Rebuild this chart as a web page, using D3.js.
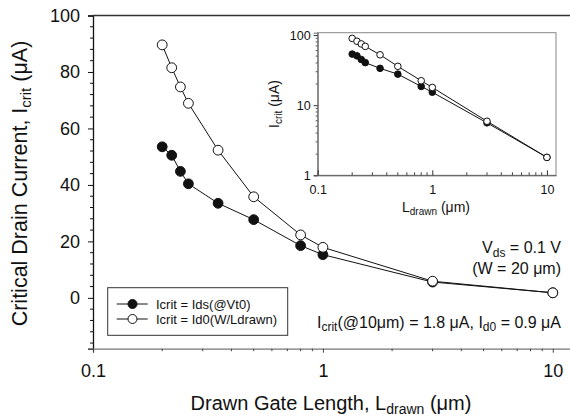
<!DOCTYPE html>
<html>
<head>
<meta charset="utf-8">
<script src="https://cdn.jsdelivr.net/npm/d3@7"></script>
<style>
  html, body { margin: 0; padding: 0; background: #fff; }
  svg { display: block; font-family: "Liberation Sans", Arial, sans-serif; }
</style>
</head>
<body>
<svg id="chart" width="570" height="420"></svg>
<script>
// Drawn gate length (µm)
const lengths = [0.2, 0.22, 0.24, 0.26, 0.35, 0.5, 0.8, 1, 3, 10];
// Icrit = Ids(@Vt0), µA
const icritVt0 = [53.5, 50.5, 44.8, 40.4, 33.5, 27.7, 18.5, 15.3, 5.6, 1.8];
// Icrit = Id0(W/Ldrawn), µA
const icritScaled = [89.6, 81.5, 74.7, 68.9, 52.3, 35.8, 22.3, 17.9, 5.9, 1.8];

const mainXTicks = [0.1, 1, 10];
const mainYTicks = [0, 20, 40, 60, 80, 100];
const insetXTicks = [0.1, 1, 10];
const insetYTicks = [1, 10, 100];

const seriesNames = ["Icrit = Ids(@Vt0)", "Icrit = Id0(W/Ldrawn)"];

const svg = d3.select("#chart");
const ink = "#111";
const FONT = "Liberation Sans, Arial, sans-serif";

// ---------- main plot ----------
const x = d3.scaleLog().domain([0.1, 12]).range([93, 571]);
const y = d3.scaleLinear().domain([-18, 100]).range([348.7, 15.5]);

const minorLog = (lo, hi) => {
  const out = [];
  for (let d = lo; d < hi; d *= 10)
    for (let k = 2; k <= 9; k++) if (d * k <= hi) out.push(d * k);
  return out;
};

// left axis: major + minor ticks pointing outward
const yMinor = d3.range(-16, 100, 4).filter(v => v % 20 !== 0);
const gy = svg.append("g").attr("transform", `translate(${x.range()[0]},0)`);
gy.call(d3.axisLeft(y).tickValues(mainYTicks).tickSize(5).tickPadding(8).tickFormat(d3.format("d")));
gy.select(".domain").attr("stroke", ink).attr("stroke-width", 1.3);
gy.selectAll(".tick line").attr("stroke", ink);
gy.selectAll(".tick text").attr("font-size", 18).attr("fill", ink).attr("font-family", FONT);
gy.append("g").selectAll("line").data(yMinor).join("line")
  .attr("x1", -3).attr("x2", 0).attr("y1", d => y(d)).attr("y2", d => y(d))
  .attr("stroke", ink);

// bottom axis
const gx = svg.append("g").attr("transform", `translate(0,${y.range()[0]})`);
gx.call(d3.axisBottom(x).tickValues(mainXTicks).tickSize(4).tickPadding(12)
  .tickFormat(d => d3.format("~g")(d)));
gx.select(".domain").attr("stroke", "#777").attr("stroke-width", 1.3);
gx.selectAll(".tick line").attr("stroke", "#444");
gx.selectAll(".tick text").attr("font-size", 18).attr("fill", ink).attr("font-family", FONT);
gx.append("g").selectAll("line").data(minorLog(0.1, 12)).join("line")
  .attr("x1", d => x(d)).attr("x2", d => x(d)).attr("y1", 0).attr("y2", 2.5)
  .attr("stroke", "#444");

// top frame line
svg.append("line")
  .attr("x1", x.range()[0]).attr("x2", x.range()[1])
  .attr("y1", y.range()[1]).attr("y2", y.range()[1])
  .attr("stroke", "#333").attr("stroke-width", 1.3);

const line = d3.line().x(d => x(d[0])).y(d => y(d[1]));
const ptsVt0 = lengths.map((L, i) => [L, icritVt0[i]]);
const ptsScaled = lengths.map((L, i) => [L, icritScaled[i]]);

svg.append("path").datum(ptsVt0).attr("d", line)
  .attr("fill", "none").attr("stroke", ink).attr("stroke-width", 1);
svg.append("path").datum(ptsScaled).attr("d", line)
  .attr("fill", "none").attr("stroke", ink).attr("stroke-width", 1);

svg.append("g").selectAll("circle").data(ptsVt0).join("circle")
  .attr("cx", d => x(d[0])).attr("cy", d => y(d[1])).attr("r", 4.9)
  .attr("fill", ink).attr("stroke", ink);
svg.append("g").selectAll("circle").data(ptsScaled).join("circle")
  .attr("cx", d => x(d[0])).attr("cy", d => y(d[1])).attr("r", 4.9)
  .attr("fill", "#fff").attr("stroke", ink).attr("stroke-width", 1);

// axis titles
const xt = svg.append("text").attr("x", 331).attr("y", 410)
  .attr("text-anchor", "middle").attr("font-size", 20).attr("fill", ink);
xt.append("tspan").text("Drawn Gate Length, L");
xt.append("tspan").attr("font-size", 14).attr("dy", 4).text("drawn");
xt.append("tspan").attr("dy", -4).text(" (\u03bcm)");

const yt = svg.append("text")
  .attr("transform", "translate(26.5,183.5) rotate(-90)")
  .attr("text-anchor", "middle").attr("font-size", 21.5).attr("fill", ink);
yt.append("tspan").text("Critical Drain Current, I");
yt.append("tspan").attr("font-size", 15).attr("dy", 4.5).text("crit");
yt.append("tspan").attr("dy", -4.5).text(" (\u03bcA)");

// legend
const lg = svg.append("g");
lg.append("rect").attr("x", 107.7).attr("y", 287.7).attr("width", 180).attr("height", 47.6)
  .attr("fill", "#fff").attr("stroke", "#333").attr("stroke-width", 1);
const legendRows = [
  { name: seriesNames[0], fill: ink, yy: 304 },
  { name: seriesNames[1], fill: "#fff", yy: 319 }
];
legendRows.forEach(r => {
  lg.append("line").attr("x1", 116.7).attr("x2", 147.7).attr("y1", r.yy).attr("y2", r.yy)
    .attr("stroke", ink).attr("stroke-width", 1);
  lg.append("circle").attr("cx", 132.5).attr("cy", r.yy).attr("r", 4.5)
    .attr("fill", r.fill).attr("stroke", ink).attr("stroke-width", 1);
  lg.append("text").attr("x", 156).attr("y", r.yy + 4.6).attr("font-size", 13)
    .attr("fill", ink).text(r.name);
});

// annotations
const a1 = svg.append("text").attr("x", 561).attr("y", 253.3)
  .attr("text-anchor", "end").attr("font-size", 16).attr("fill", ink);
a1.append("tspan").text("V");
a1.append("tspan").attr("font-size", 12).attr("dy", 3.5).text("ds");
a1.append("tspan").attr("dy", -3.5).text(" = 0.1 V");
svg.append("text").attr("x", 561).attr("y", 274)
  .attr("text-anchor", "end").attr("font-size", 16).attr("fill", ink)
  .text("(W = 20 \u03bcm)");
const a3 = svg.append("text").attr("x", 561).attr("y", 327.5)
  .attr("text-anchor", "end").attr("font-size", 16).attr("fill", ink);
a3.append("tspan").text("I");
a3.append("tspan").attr("font-size", 12).attr("dy", 3.5).text("crit");
a3.append("tspan").attr("dy", -3.5).text("(@10\u03bcm) = 1.8 \u03bcA, I");
a3.append("tspan").attr("font-size", 12).attr("dy", 3.5).text("d0");
a3.append("tspan").attr("dy", -3.5).text(" = 0.9 \u03bcA");

// ---------- inset (log-log) ----------
const xi = d3.scaleLog().domain([0.1, 12]).range([317.7, 556]);
const yi = d3.scaleLog().domain([1, 108]).range([175.3, 32.7]);

svg.append("rect")
  .attr("x", xi.range()[0]).attr("y", yi.range()[1])
  .attr("width", xi.range()[1] - xi.range()[0]).attr("height", yi.range()[0] - yi.range()[1])
  .attr("fill", "#fff").attr("stroke", "#888").attr("stroke-width", 1);

const giy = svg.append("g").attr("transform", `translate(${xi.range()[0]},0)`);
giy.call(d3.axisLeft(yi).tickValues(insetYTicks).tickSize(4).tickPadding(3)
  .tickFormat(d3.format("d")));
giy.select(".domain").attr("stroke", "#666");
giy.selectAll(".tick line").attr("stroke", "#333");
giy.selectAll(".tick text").attr("font-size", 12.5).attr("fill", ink).attr("font-family", FONT);
giy.append("g").selectAll("line").data(minorLog(1, 100)).join("line")
  .attr("x1", -2).attr("x2", 0).attr("y1", d => yi(d)).attr("y2", d => yi(d))
  .attr("stroke", "#555");

const gix = svg.append("g").attr("transform", `translate(0,${yi.range()[0]})`);
gix.call(d3.axisBottom(xi).tickValues(insetXTicks).tickSizeInner(-5).tickSizeOuter(0)
  .tickPadding(10).tickFormat(d => d3.format("~g")(d)));
gix.select(".domain").attr("stroke", "#555");
gix.selectAll(".tick line").attr("stroke", "#333");
gix.selectAll(".tick text").attr("font-size", 12.5).attr("fill", ink).attr("font-family", FONT);
gix.append("g").selectAll("line").data(minorLog(0.1, 12)).join("line")
  .attr("x1", d => xi(d)).attr("x2", d => xi(d)).attr("y1", 0).attr("y2", -3)
  .attr("stroke", "#444");

const lineI = d3.line().x(d => xi(d[0])).y(d => yi(d[1]));
svg.append("path").datum(ptsVt0).attr("d", lineI)
  .attr("fill", "none").attr("stroke", ink).attr("stroke-width", 1);
svg.append("path").datum(ptsScaled).attr("d", lineI)
  .attr("fill", "none").attr("stroke", ink).attr("stroke-width", 1);
svg.append("g").selectAll("circle").data(ptsVt0).join("circle")
  .attr("cx", d => xi(d[0])).attr("cy", d => yi(d[1])).attr("r", 3.3)
  .attr("fill", ink).attr("stroke", ink);
svg.append("g").selectAll("circle").data(ptsScaled).join("circle")
  .attr("cx", d => xi(d[0])).attr("cy", d => yi(d[1])).attr("r", 3.3)
  .attr("fill", "#fff").attr("stroke", ink).attr("stroke-width", 1);

const ixt = svg.append("text").attr("x", 436).attr("y", 212)
  .attr("text-anchor", "middle").attr("font-size", 14).attr("fill", ink);
ixt.append("tspan").text("L");
ixt.append("tspan").attr("font-size", 10).attr("dy", 3).text("drawn");
ixt.append("tspan").attr("dy", -3).text(" (\u03bcm)");

const iyt = svg.append("text")
  .attr("transform", "translate(279,104) rotate(-90)")
  .attr("text-anchor", "middle").attr("font-size", 14).attr("fill", ink);
iyt.append("tspan").text("I");
iyt.append("tspan").attr("font-size", 10).attr("dy", 3).text("crit");
iyt.append("tspan").attr("dy", -3).text(" (\u03bcA)");
</script>
</body>
</html>
